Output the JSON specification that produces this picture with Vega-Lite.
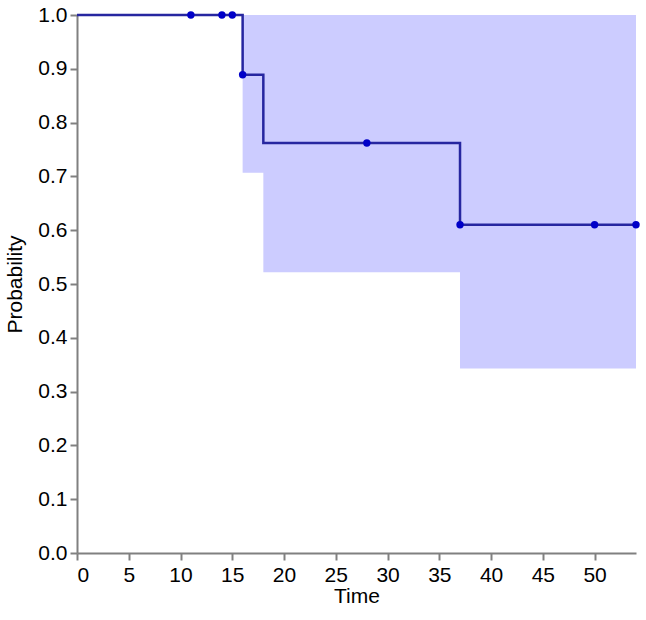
{
  "$schema": "https://vega.github.io/schema/vega-lite/v6.json",
  "width": 559,
  "height": 538,
  "autosize": {"type": "none"},
  "padding": {"left": 77, "top": 15, "right": 10, "bottom": 67},
  "background": "white",
  "config": {
    "view": {"stroke": null},
    "axis": {
      "domainColor": "#808080",
      "tickColor": "#808080",
      "domainWidth": 2,
      "tickWidth": 2,
      "tickSize": 7,
      "labelColor": "#000000",
      "titleColor": "#000000",
      "labelFont": "Liberation Sans",
      "titleFont": "Liberation Sans",
      "labelFontSize": 21,
      "titleFontSize": 21,
      "titleFontWeight": "normal",
      "grid": false
    }
  },
  "datasets": {
    "band": [
      {"time": 16, "lower": 0.707, "upper": 1.0},
      {"time": 18, "lower": 0.522, "upper": 1.0},
      {"time": 37, "lower": 0.343, "upper": 1.0},
      {"time": 54, "lower": 0.343, "upper": 1.0}
    ],
    "curve": [
      {"time": 0, "prob": 1.0},
      {"time": 16, "prob": 0.889},
      {"time": 18, "prob": 0.762},
      {"time": 37, "prob": 0.61},
      {"time": 54, "prob": 0.61}
    ],
    "marks": [
      {"time": 11, "prob": 1.0},
      {"time": 14, "prob": 1.0},
      {"time": 15, "prob": 1.0},
      {"time": 16, "prob": 0.889},
      {"time": 28, "prob": 0.762},
      {"time": 37, "prob": 0.61},
      {"time": 50, "prob": 0.61},
      {"time": 54, "prob": 0.61}
    ]
  },
  "layer": [
    {
      "data": {"name": "band"},
      "mark": {"type": "area", "interpolate": "step-after", "color": "#ccccff", "opacity": 1},
      "encoding": {
        "x": {"field": "time", "type": "quantitative", "scale": {"domain": [0, 54], "nice": false},
          "axis": {"values": [0, 5, 10, 15, 20, 25, 30, 35, 40, 45, 50], "format": "d", "title": "Time", "labelPadding": 4, "titlePadding": 0}},
        "y": {"field": "lower", "type": "quantitative", "scale": {"domain": [0, 1], "nice": false},
          "axis": {"values": [0, 0.1, 0.2, 0.3, 0.4, 0.5, 0.6, 0.7, 0.8, 0.9, 1.0], "format": ".1f", "title": "Probability", "labelPadding": 3, "titlePadding": 12}},
        "y2": {"field": "upper"}
      }
    },
    {
      "data": {"name": "curve"},
      "mark": {"type": "line", "interpolate": "step-after", "color": "#2626a0", "strokeWidth": 2.5},
      "encoding": {
        "x": {"field": "time", "type": "quantitative"},
        "y": {"field": "prob", "type": "quantitative"}
      }
    },
    {
      "data": {"name": "marks"},
      "mark": {"type": "point", "filled": true, "color": "#0000c8", "size": 55, "opacity": 1},
      "encoding": {
        "x": {"field": "time", "type": "quantitative"},
        "y": {"field": "prob", "type": "quantitative"}
      }
    }
  ]
}
